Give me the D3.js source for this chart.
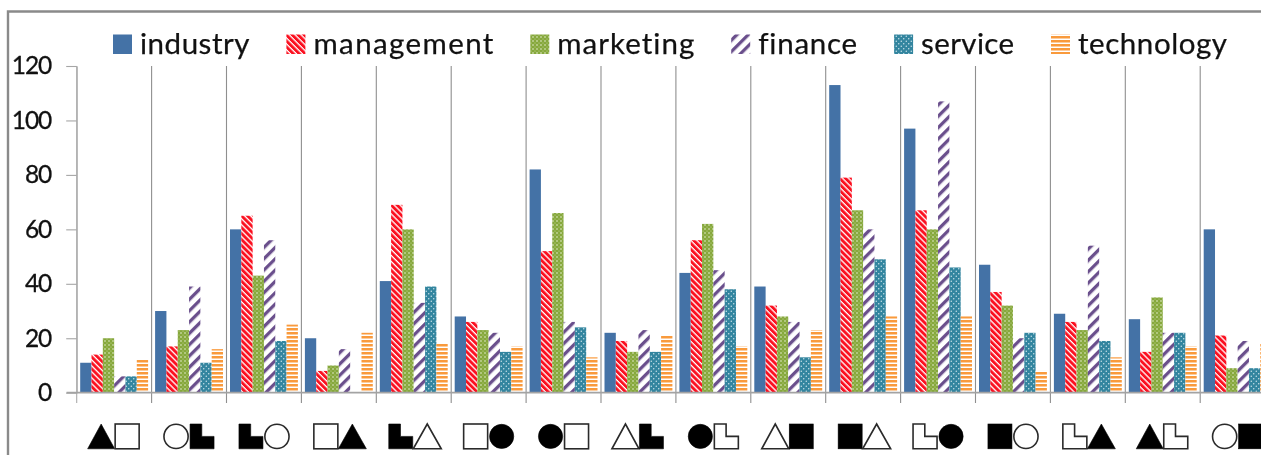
<!DOCTYPE html>
<html><head><meta charset="utf-8">
<script src="https://cdn.jsdelivr.net/npm/d3@7/dist/d3.min.js"></script>
<style>html,body{margin:0;padding:0;background:#fff;overflow:hidden}svg{display:block;filter:blur(0.35px)}text{font-family:Lato,"Open Sans",sans-serif;fill:#111;font-variant-ligatures:none}</style>
</head><body><div id="chart"></div>
<script>
const seriesNames = ["industry","management","marketing","finance","service","technology"];
const industry   = [11,30,60,20,41,28,82,22,44,39,113,97,47,29,27,60];
const management = [14,17,65,8,69,26,52,19,56,32,79,67,37,26,15,21];
const marketing  = [20,23,43,10,60,23,66,15,62,28,67,60,32,23,35,9];
const finance    = [6,39,56,16,33,22,26,23,45,26,60,107,20,54,22,19];
const service    = [6,11,19,0,39,15,24,15,38,13,49,46,22,19,22,9];
const technology = [12,16,25,22,18,17,13,21,17,23,28,28,8,13,17,18];
const seriesValues = [industry,management,marketing,finance,service,technology];
const firstShape  = ["triangleFilled","circleOpen","ellFilled","squareOpen","ellFilled","squareOpen","circleFilled","triangleOpen","circleFilled","triangleOpen","squareFilled","ellOpen","squareFilled","ellOpen","triangleFilled","circleOpen"];
const secondShape = ["squareOpen","ellFilled","circleOpen","triangleFilled","triangleOpen","circleFilled","squareOpen","ellFilled","ellOpen","squareFilled","triangleOpen","circleFilled","circleOpen","triangleFilled","ellOpen","squareFilled"];
const yTicks = [0,20,40,60,80,100,120];

const W=1261,H=455;
const svg=d3.select("#chart").append("svg").attr("width",W).attr("height",H);
const defs=svg.append("defs");

function pat(id,w,h,bg,draw,transform){
  const p=defs.append("pattern").attr("id",id).attr("patternUnits","userSpaceOnUse").attr("width",w).attr("height",h);
  if(transform)p.attr("patternTransform",transform);
  p.append("rect").attr("width",w).attr("height",h).attr("fill",bg);
  draw(p);
}
pat("p1",4.2,4.2,"#fff",p=>p.append("rect").attr("width",2.9).attr("height",4.2).attr("fill","#fb1020"),"rotate(-45)");
pat("p2",4,4,"#86a83c",p=>{p.append("circle").attr("cx",1).attr("cy",1).attr("r",.8).attr("fill","#e8f0d4");p.append("circle").attr("cx",3).attr("cy",3).attr("r",.6).attr("fill","#c5d79a");});
pat("p3",8,8,"#fff",p=>p.append("rect").attr("width",3.3).attr("height",8).attr("fill","#6a4f8c"),"rotate(45)");
pat("p4",5,5,"#33859f",p=>{p.append("circle").attr("cx",1.25).attr("cy",1.25).attr("r",.7).attr("fill","#d6ebf0");p.append("circle").attr("cx",3.75).attr("cy",3.75).attr("r",.7).attr("fill","#d6ebf0");});
pat("p5",4,4,"#fff",p=>p.append("rect").attr("width",4).attr("height",2.5).attr("fill","#f99a3c"));
const fills=["#4472a6","url(#p1)","url(#p2)","url(#p3)","url(#p4)","url(#p5)"];

// frame
svg.append("path").attr("d","M8,455V11.5H1261").attr("fill","none").attr("stroke","#8a8a8a").attr("stroke-width",2.4);

const plotL=76.7, step=74.9, y0=392.7, y1=66;
const x=d3.scaleBand().domain(d3.range(16)).range([plotL,plotL+16*step]).paddingInner(0);
const y=d3.scaleLinear().domain([0,120]).range([y0,y1]);
const inner=d3.scaleBand().domain(d3.range(6)).range([3.5,step-3.5]);

// separators
const edges=d3.range(17).map(i=>plotL+i*step);
svg.append("g").selectAll("line").data(edges).join("line")
  .attr("x1",d=>d).attr("x2",d=>d).attr("y1",y1).attr("y2",403)
  .attr("stroke",(d,i)=>i?"#8f8f8f":"#ababab").attr("stroke-width",1.1);

// bars
seriesValues.forEach((vals,s)=>{
  svg.append("g").selectAll("rect").data(vals).join("rect")
    .attr("x",(d,i)=>x(i)+inner(s)).attr("width",inner.bandwidth())
    .attr("y",d=>y(d)).attr("height",d=>y0-y(d)).attr("fill",fills[s]);
});

// y axis
const yAxis=d3.axisLeft(y).tickValues(yTicks).tickSize(10.5).tickPadding(15).tickSizeOuter(0);
const gy=svg.append("g").attr("transform",`translate(${plotL},0)`).call(yAxis);
gy.selectAll("line").attr("stroke","#a6a6a6").attr("stroke-width",1.1);
gy.select(".domain").attr("stroke","#ababab").attr("stroke-width",1.1);
gy.selectAll("text").attr("font-size",24.5).attr("font-family","Lato").attr("fill","#111")
  .attr("letter-spacing",-1.1).attr("stroke","#111").attr("stroke-width",0.3);

// x baseline
svg.append("line").attr("x1",66.5).attr("x2",W).attr("y1",y0).attr("y2",y0).attr("stroke","#a3a3a3").attr("stroke-width",1.8);

// category shapes
const S=24.8;
function drawShape(g,name,left,right){
  const filled=name.endsWith("Filled");
  const fill=filled?"#000":"#fff", stroke=filled?"#000":"#2a2a2a";
  const top=424,b=top+S;
  const base={fill,stroke,"stroke-width":filled?.6:1.6};
  let el;
  const l=left,w=right-left;
  if(name.startsWith("circle")){
    el=g.append("circle").attr("cx",l+w/2).attr("cy",top+S/2).attr("r",S/2-.3);
  }else if(name.startsWith("square")){
    el=g.append("rect").attr("x",l+.5).attr("y",top).attr("width",w-1).attr("height",S);
  }else if(name.startsWith("triangle")){
    el=g.append("path").attr("d",`M${l+w/2},${top}L${l+w},${b}H${l}Z`);
  }else{
    el=g.append("path").attr("d",`M${l+.5},${top}H${l+w*.49}V${top+S*.5}H${l+w-.5}V${b}H${l+.5}Z`);
  }
  Object.entries(base).forEach(([k,v])=>el.attr(k,v));
}
const gs=svg.append("g");
firstShape.forEach((n,i)=>{
  const c=x(i)+x.bandwidth()/2;
  const a=n.startsWith("triangle")?[c-26.5,c+.5]:[c-25.5,c-.5];
  drawShape(gs,n,a[0],a[1]);
  const m=secondShape[i];
  const b=m.startsWith("triangle")?[c-.5,c+27.5]:[c+.5,c+25.5];
  drawShape(gs,m,b[0],b[1]);
});

// legend
const legendTextWidths=[109.5,180,137,99,93,149];
const legend=svg.append("g");
let lx=113;
seriesNames.forEach((name,s)=>{
  legend.append("rect").attr("x",lx).attr("y",34.5).attr("width",19).attr("height",19.5).attr("fill",fills[s]);
  legend.append("text").attr("x",lx+27).attr("y",54).attr("font-size",29.5)
    .attr("textLength",legendTextWidths[s]).attr("lengthAdjust","spacing")
    .attr("stroke","#111").attr("stroke-width",0.25).text(name);
  lx+=27+legendTextWidths[s]+36.9;
});
</script></body></html>
